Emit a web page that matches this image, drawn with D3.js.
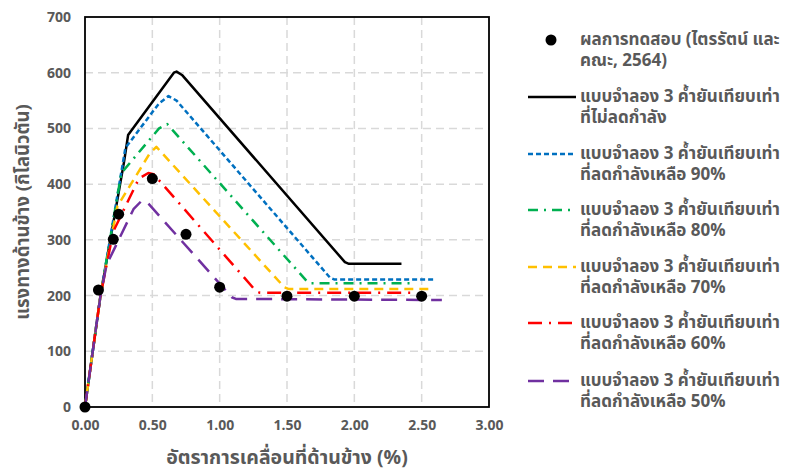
<!DOCTYPE html>
<html>
<head>
<meta charset="utf-8">
<script src="https://cdn.jsdelivr.net/npm/d3@7"></script>
<style>
  html, body { margin: 0; padding: 0; background: #fff; }
  svg { display: block; }
  text { font-family: Tahoma, "Leelawadee UI", "Noto Sans Thai", "Noto Sans", sans-serif; fill: #595959; font-weight: bold; }
</style>
</head>
<body>
<svg id="chart" width="795" height="473"></svg>
<script>
// Lateral drift (%) vs lateral force (kN)
const xTicks = [0, 0.5, 1.0, 1.5, 2.0, 2.5, 3.0];
const yTicks = [0, 100, 200, 300, 400, 500, 600, 700];

// Test results
const testDrift = [0, 0.10, 0.21, 0.25, 0.50, 0.75, 1.00, 1.50, 2.00, 2.50];
const testForce = [0, 210, 301, 346, 410, 310, 215, 199, 199, 199];

// Equivalent 3-strut models
const fullDrift = [0, 0.115, 0.29, 0.32, 0.66, 0.68, 0.72, 1.93, 1.96, 2.35];
const fullForce = [0, 200, 440, 488, 600, 602, 596, 260, 257, 257];

const r90Drift = [0, 0.115, 0.30, 0.55, 0.62, 0.68, 1.82, 1.85, 2.60];
const r90Force = [0, 200, 465, 545, 558, 550, 232, 229, 229];

const r80Drift = [0, 0.115, 0.27, 0.55, 0.61, 1.65, 1.68, 2.45];
const r80Force = [0, 200, 420, 500, 508, 225, 222, 222];

const r70Drift = [0, 0.115, 0.24, 0.48, 0.53, 1.48, 1.51, 2.57];
const r70Force = [0, 200, 360, 455, 467, 215, 212, 212];

const r60Drift = [0, 0.115, 0.21, 0.40, 0.47, 0.51, 1.27, 1.30, 2.45];
const r60Force = [0, 200, 315, 410, 420, 418, 208, 205, 205];

const r50Drift = [0, 0.115, 0.16, 0.36, 0.42, 0.46, 1.09, 1.12, 2.65];
const r50Force = [0, 200, 255, 355, 370, 368, 197, 194, 192];

const legendLabels = [
  ["ผลการทดสอบ (ไตรรัตน์ และ", "คณะ, 2564)"],
  ["แบบจำลอง 3 ค้ำยันเทียบเท่า", "ที่ไม่ลดกำลัง"],
  ["แบบจำลอง 3 ค้ำยันเทียบเท่า", "ที่ลดกำลังเหลือ 90%"],
  ["แบบจำลอง 3 ค้ำยันเทียบเท่า", "ที่ลดกำลังเหลือ 80%"],
  ["แบบจำลอง 3 ค้ำยันเทียบเท่า", "ที่ลดกำลังเหลือ 70%"],
  ["แบบจำลอง 3 ค้ำยันเทียบเท่า", "ที่ลดกำลังเหลือ 60%"],
  ["แบบจำลอง 3 ค้ำยันเทียบเท่า", "ที่ลดกำลังเหลือ 50%"]
];

const zip = (xs, ys) => xs.map((x, i) => [x, ys[i]]);

const series = [
  { pts: zip(fullDrift, fullForce), color: "#000000", dash: null },
  { pts: zip(r90Drift, r90Force), color: "#0070C0", dash: "5,3" },
  { pts: zip(r80Drift, r80Force), color: "#00B050", dash: "10,6,2,6" },
  { pts: zip(r70Drift, r70Force), color: "#FFC000", dash: "9,6" },
  { pts: zip(r60Drift, r60Force), color: "#FF0000", dash: "14,7,2,7" },
  { pts: zip(r50Drift, r50Force), color: "#7030A0", dash: "16,9" }
];

const svg = d3.select("#chart");
const plot = { left: 85, right: 489, top: 17, bottom: 407 };

const x = d3.scaleLinear().domain([0, 3]).range([plot.left, plot.right]);
const y = d3.scaleLinear().domain([0, 700]).range([plot.bottom, plot.top]);

// grid
const grid = svg.append("g");
grid.selectAll("line.v").data(xTicks.slice(1, -1)).enter().append("line")
  .attr("x1", d => x(d)).attr("x2", d => x(d))
  .attr("y1", plot.top).attr("y2", plot.bottom)
  .attr("stroke", "#d9d9d9").attr("stroke-width", 1.5).attr("stroke-dasharray", "8,5");
grid.selectAll("line.h").data(yTicks.slice(1, -1)).enter().append("line")
  .attr("x1", plot.left).attr("x2", plot.right)
  .attr("y1", d => y(d)).attr("y2", d => y(d))
  .attr("stroke", "#d9d9d9").attr("stroke-width", 1.5).attr("stroke-dasharray", "8,5");

// axes
const xAxis = d3.axisBottom(x).tickValues(xTicks).tickFormat(d3.format(".2f")).tickSize(0).tickPadding(13);
const yAxis = d3.axisLeft(y).tickValues(yTicks).tickFormat(d3.format("d")).tickSize(0).tickPadding(14);
const gx = svg.append("g").attr("transform", `translate(0,${plot.bottom})`).call(xAxis);
const gy = svg.append("g").attr("transform", `translate(${plot.left},0)`).call(yAxis);
[gx, gy].forEach(g => {
  g.select(".domain").remove();
  g.selectAll("text").style("font-size", "14px").attr("fill", "#595959");
});

// plot frame
svg.append("rect")
  .attr("x", plot.left).attr("y", plot.top)
  .attr("width", plot.right - plot.left).attr("height", plot.bottom - plot.top)
  .attr("fill", "none").attr("stroke", "#000").attr("stroke-width", 1.8);

// model curves
const line = d3.line().x(d => x(d[0])).y(d => y(d[1]));
series.forEach(s => {
  svg.append("path")
    .attr("d", line(s.pts))
    .attr("fill", "none")
    .attr("stroke", s.color)
    .attr("stroke-width", 2.5)
    .attr("stroke-linejoin", "round")
    .attr("stroke-dasharray", s.dash);
});

// test points
svg.append("g").selectAll("circle").data(zip(testDrift, testForce)).enter().append("circle")
  .attr("cx", d => x(d[0])).attr("cy", d => y(d[1])).attr("r", 5.5).attr("fill", "#000");

// axis titles
svg.append("text").attr("x", (plot.left + plot.right) / 2).attr("y", 464)
  .attr("text-anchor", "middle").style("font-size", "19.5px")
  .text("อัตราการเคลื่อนที่ด้านข้าง (%)");
svg.append("text").attr("transform", `translate(29,${(plot.top + plot.bottom) / 2}) rotate(-90)`)
  .attr("text-anchor", "middle").style("font-size", "18.5px")
  .text("แรงทางด้านข้าง (กิโลนิวตัน)");

// legend
const legendY = [40, 97, 154, 210, 267, 323, 381];
const lg = svg.append("g");
legendLabels.forEach((lab, i) => {
  const cy = legendY[i];
  if (i === 0) {
    lg.append("circle").attr("cx", 551).attr("cy", cy).attr("r", 5.5).attr("fill", "#000");
  } else {
    const s = series[i - 1];
    lg.append("line").attr("x1", 528).attr("x2", 576).attr("y1", cy).attr("y2", cy)
      .attr("stroke", s.color).attr("stroke-width", 2.5).attr("stroke-dasharray", s.dash);
  }
  lg.append("text").attr("x", 580).attr("y", cy + 5).style("font-size", "17px").text(lab[0]);
  lg.append("text").attr("x", 580).attr("y", cy + 26).style("font-size", "17px").text(lab[1]);
});
</script>
</body>
</html>
